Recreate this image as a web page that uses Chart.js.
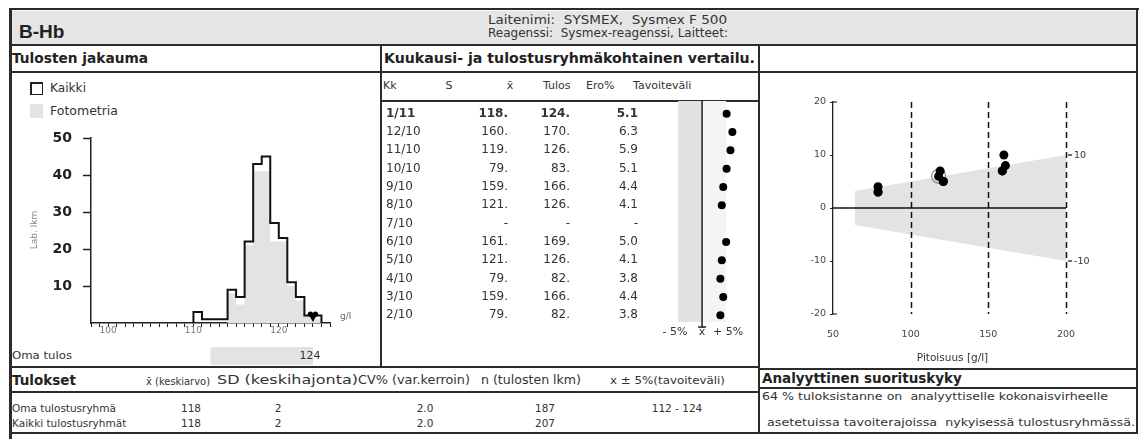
<!DOCTYPE html>
<html>
<head>
<meta charset="utf-8">
<script src="https://cdn.jsdelivr.net/npm/chart.js@4.4.1/dist/chart.umd.min.js"></script>
<style>
  html, body { margin: 0; padding: 0; background: #fff; }
  body { width: 1142px; height: 439px; position: relative; overflow: hidden;
         font-family: "DejaVu Sans", sans-serif; color: #333; }
  .ln { position: absolute; background: #2b2b2b; }
  .tx { position: absolute; white-space: pre; line-height: 1.2; }
  canvas { position: absolute; }
</style>
</head>
<body>
<div id="frame"></div>
<canvas id="hist" width="368" height="295" style="left:12px;top:72px;width:368px;height:295px"></canvas>
<canvas id="monthly" width="377" height="267" style="left:382px;top:100px;width:377px;height:267px"></canvas>
<canvas id="diff" width="375" height="296" style="left:762px;top:72px;width:375px;height:296px"></canvas>

<script>
// ---- Result distribution (g/l), one-unit bins ----
const binEdges   = [110, 111, 112, 113, 114, 115, 116, 117, 118, 119, 120, 121, 122, 123, 124, 125];
const countAll   = [3, 1, 1, 1, 9, 7, 22, 43, 45, 27, 23, 11, 7, 2, 2];
const countPhoto = [0, 0, 0, 0, 8, 5, 21, 41, 41, 22, 22, 10, 6, 2, 1];
const histTicks  = [98, 99, 100, 101, 102, 103, 104, 105, 106, 107, 108, 109, 110, 111, 112,
                    113, 114, 115, 116, 117, 118, 119, 120, 121, 122, 123, 124, 125, 126];
const ownResult  = 124;
const targetLow  = 112;
const targetHigh = 124;

// ---- Monthly comparison ----
const months       = ['1/11', '12/10', '11/10', '10/10', '9/10', '8/10', '7/10', '6/10', '5/10', '4/10', '3/10', '2/10'];
const monthMeans   = [118, 160, 119, 79, 159, 121, null, 161, 121, 79, 159, 79];
const monthResults = [124, 170, 126, 83, 166, 126, null, 169, 126, 82, 166, 82];
const monthDiffPct = [5.1, 6.3, 5.9, 5.1, 4.4, 4.1, null, 5.0, 4.1, 3.8, 4.4, 3.8];

// ---- Allowed deviation band (g/l) over concentration ----
const bandConc  = [64, 200];
const bandUpper = [3.2, 10];
const bandLower = [-3.2, -10];

// ---- Summary table ----
const summaryGroups = ['Oma tulostusryhmä', 'Kaikki tulostusryhmät'];
const summaryMean   = ['118', '118'];
const summarySD     = ['2', '2'];
const summaryCV     = ['2.0', '2.0'];
const summaryN      = ['187', '207'];
const summaryRange  = ['112 - 124', ''];

const FONT = '"DejaVu Sans", sans-serif';
const frame = document.getElementById('frame');
const measureCtx = document.createElement('canvas').getContext('2d');

function box(x, y, w, h, color) {
  const d = document.createElement('div');
  d.className = 'ln';
  d.style.cssText = `left:${x}px;top:${y}px;width:${w}px;height:${h}px;` + (color ? `background:${color};` : '');
  frame.appendChild(d);
}
// text placed by left/centre/right x and vertical centre; optional w stretches it to a given width
function text(x, yc, str, o = {}) {
  const d = document.createElement('div');
  d.className = 'tx';
  d.textContent = str;
  const size = o.size || 11;
  const weight = o.weight || 'normal';
  const family = o.family || FONT;
  const shift = o.align === 'center' ? '-50%' : (o.align === 'right' ? '-100%' : '0');
  let k = 1;
  if (o.w) {
    measureCtx.font = `${weight} ${size}px ${family}`;
    k = o.w / measureCtx.measureText(str).width;
  }
  d.style.cssText = `left:${x}px;top:${yc}px;font-size:${size}px;font-weight:${weight};` +
    `color:${o.color || '#333'};font-family:${family};transform-origin:0 50%;` +
    `transform:translate(${shift},-50%) scaleX(${k});`;
  frame.appendChild(d);
}

// header band and frame rules
box(12, 11, 1125, 34, '#e5e5e5');
box(9, 8, 1130, 2);          // top
box(9, 8, 3, 431);           // left
box(1136, 8, 1.5, 426);      // right
box(9, 44, 1129, 1.5);
box(9, 71, 1129, 1.5);
box(380, 44, 1.5, 323);
box(758, 44, 1.5, 390);
box(380, 100, 379, 1.5);
box(9, 366, 750, 1.5);
box(758, 368, 380, 1.5);
box(9, 391, 750, 1.5);
box(758, 387, 380, 1.5);
box(9, 432, 1129, 1.5);

// header texts
text(19, 32, 'B-Hb', { size: 19, weight: 'bold', color: '#222', family: '"Liberation Sans", sans-serif' });
text(488, 20, 'Laitenimi:  SYSMEX,  Sysmex F 500', { size: 12, w: 239 });
text(488, 33, 'Reagenssi:  Sysmex-reagenssi, Laitteet:', { size: 12, w: 240 });
text(12, 58, 'Tulosten jakauma', { size: 13.5, weight: 'bold', color: '#222', w: 136 });
text(384, 58, 'Kuukausi- ja tulostusryhmäkohtainen vertailu.', { size: 13.5, weight: 'bold', color: '#222', w: 371 });

// histogram legend
box(30, 82, 13, 13, '#222');
box(31.5, 83.5, 10, 10, '#fff');
text(50, 89, 'Kaikki', { size: 11.5, w: 36 });
box(30, 104, 13, 14, '#e3e3e3');
text(50, 112, 'Fotometria', { size: 11.5, w: 68 });
text(12, 356, 'Oma tulos', { size: 11, w: 60 });

// monthly table header
text(383, 86, 'Kk', { size: 11 });
text(449, 86, 'S', { size: 11, align: 'center' });
text(510, 86, 'x̄', { size: 11, align: 'center' });
text(543, 86, 'Tulos', { size: 11 });
text(586, 86, 'Ero%', { size: 11 });
text(633, 86, 'Tavoiteväli', { size: 11 });

// summary table
text(12, 380, 'Tulokset', { size: 13.5, weight: 'bold', color: '#222' });
text(146, 381, 'x̄ (keskiarvo)', { size: 10.5, w: 64 });
text(217, 381, 'SD (keskihajonta)', { size: 11.5, w: 141 });
text(358, 381, 'CV% (var.kerroin)', { size: 11.5, w: 112 });
text(481, 381, 'n (tulosten lkm)', { size: 11.5, w: 100 });
text(610, 381, 'x ± 5%(tavoiteväli)', { size: 11, w: 115 });
const rowY = [408, 423];
summaryGroups.forEach((g, i) => {
  text(12, rowY[i], g, { size: 10.5 });
  text(191, rowY[i], summaryMean[i], { size: 10.5, align: 'center' });
  text(278, rowY[i], summarySD[i], { size: 10.5, align: 'center' });
  text(425, rowY[i], summaryCV[i], { size: 10.5, align: 'center' });
  text(545, rowY[i], summaryN[i], { size: 10.5, align: 'center' });
  text(677, rowY[i], summaryRange[i], { size: 10.5, align: 'center' });
});

// performance box
text(762, 378, 'Analyyttinen suorituskyky', { size: 13.5, weight: 'bold', color: '#222' });
text(762, 397, '64 % tuloksistanne on  analyyttiselle kokonaisvirheelle', { size: 11, w: 346 });
text(767, 423, 'asetetuissa tavoiterajoissa  nykyisessä tulostusryhmässä.', { size: 11, w: 368 });

// ---------- Histogram ----------
function stepOutline(counts) {
  const pts = [{ x: binEdges[0], y: 0 }];
  counts.forEach((c, i) => {
    pts.push({ x: binEdges[i], y: c });
    pts.push({ x: binEdges[i + 1], y: c });
  });
  pts.push({ x: binEdges[binEdges.length - 1], y: 0 });
  return pts;
}

const histDecor = {
  id: 'histDecor',
  afterDraw(chart) {
    const { ctx, scales: { x, y } } = chart;
    ctx.save();
    // own result marker on the axis
    const mx = x.getPixelForValue(ownResult), base = y.getPixelForValue(0);
    ctx.fillStyle = '#000';
    ctx.beginPath();
    ctx.moveTo(mx - 5, base - 10);
    ctx.lineTo(mx + 5, base - 10);
    ctx.lineTo(mx, base - 1);
    ctx.closePath();
    ctx.fill();
    ctx.beginPath();
    ctx.arc(mx - 2.5, base - 9, 2.6, 0, Math.PI * 2);
    ctx.arc(mx + 2.5, base - 9, 2.6, 0, Math.PI * 2);
    ctx.fill();
    // unit
    ctx.fillStyle = '#666';
    ctx.font = `9px ${FONT}`;
    ctx.textBaseline = 'middle';
    ctx.textAlign = 'left';
    ctx.fillText('g/l', x.right + 10, base - 6);
    // axis title
    ctx.save();
    ctx.translate(23, 158);
    ctx.rotate(-Math.PI / 2);
    ctx.textAlign = 'center';
    ctx.fillStyle = '#888';
    ctx.fillText('Lab. lkm', 0, 0);
    ctx.restore();
    // target interval strip with own result
    const x0 = x.getPixelForValue(targetLow), x1 = x.getPixelForValue(targetHigh);
    ctx.fillStyle = '#e3e3e3';
    ctx.fillRect(x0, 275, x1 - x0, 18);
    ctx.fillStyle = '#333';
    ctx.font = `11px ${FONT}`;
    ctx.textAlign = 'center';
    ctx.fillText(String(ownResult), mx - 3, 284);
    ctx.restore();
  }
};

new Chart(document.getElementById('hist'), {
  type: 'line',
  data: {
    datasets: [
      { data: stepOutline(countAll), borderWidth: 2, borderColor: '#111',
        fill: false, pointRadius: 0, tension: 0, order: 0 },
      { data: stepOutline(countPhoto), borderWidth: 0, borderColor: 'rgba(0,0,0,0)',
        backgroundColor: '#e3e3e3', fill: 'origin', pointRadius: 0, tension: 0, order: 1 }
    ]
  },
  options: {
    responsive: false, animation: false, devicePixelRatio: 1,
    layout: { padding: { left: 0, right: 50, top: 66, bottom: 24 } },
    plugins: { legend: { display: false }, tooltip: { enabled: false } },
    scales: {
      x: {
        type: 'linear', min: 98, max: 126,
        afterBuildTicks: s => { s.ticks = histTicks.map(v => ({ value: v })); },
        afterFit: s => { s.height = 20; },
        grid: { drawOnChartArea: false, drawTicks: true, tickLength: 4, tickColor: '#222', tickWidth: 1 },
        border: { display: true, color: '#222', width: 1.5 },
        ticks: { autoSkip: false, maxRotation: 0, padding: -2, color: '#777',
                 font: { size: 9, family: FONT },
                 callback: v => (v % 10 === 0 ? String(v) : '') }
      },
      y: {
        min: 0, max: 50,
        afterBuildTicks: s => { s.ticks = [10, 20, 30, 40, 50].map(v => ({ value: v })); },
        afterFit: s => { s.width = 79; },
        grid: { drawOnChartArea: false, tickLength: 8, tickColor: '#222', tickWidth: 1.5 },
        border: { display: true, color: '#222', width: 1.5 },
        ticks: { padding: 11, color: '#222', font: { size: 14, weight: 'bold', family: FONT } }
      }
    }
  },
  plugins: [histDecor]
});

// ---------- Monthly table with deviation dots ----------
const monthlyDecor = {
  id: 'monthlyDecor',
  beforeDatasetsDraw(chart) {
    const { ctx, chartArea: a, scales: { x } } = chart;
    const xl = x.getPixelForValue(-5), x0 = x.getPixelForValue(0), xr = x.getPixelForValue(5);
    ctx.save();
    ctx.fillStyle = '#e2e2e2';
    ctx.fillRect(xl, a.top - 3.5, x0 - xl, a.bottom - a.top + 1);
    ctx.fillStyle = '#f4f4f4';
    ctx.fillRect(x0, a.top - 3.5, xr - x0, a.bottom - a.top + 1);
    ctx.strokeStyle = '#222';
    ctx.lineWidth = 1.5;
    ctx.beginPath();
    ctx.moveTo(x0, a.top - 3.5);
    ctx.lineTo(x0, a.bottom + 2.5);
    ctx.moveTo(x0 - 4, a.bottom + 2.5);
    ctx.lineTo(x0 + 4, a.bottom + 2.5);
    ctx.stroke();
    ctx.fillStyle = '#333';
    ctx.font = `11px ${FONT}`;
    ctx.textBaseline = 'middle';
    ctx.textAlign = 'center';
    ctx.fillText('- 5%', xl - 3, a.bottom + 8);
    ctx.fillText('x̄', x0, a.bottom + 8);
    ctx.fillText('+ 5%', xr + 2, a.bottom + 8);
    ctx.restore();
  },
  afterDraw(chart) {
    const { ctx, scales: { y } } = chart;
    ctx.save();
    ctx.fillStyle = '#333';
    ctx.textBaseline = 'middle';
    months.forEach((m, i) => {
      const yy = y.getPixelForValue(i);
      ctx.font = `${i === 0 ? 'bold ' : ''}12px ${FONT}`;
      ctx.textAlign = 'left';
      ctx.fillText(m, 4, yy);
      ctx.textAlign = 'right';
      ctx.fillText(monthMeans[i] === null ? '-' : monthMeans[i] + '.', 126, yy);
      ctx.fillText(monthResults[i] === null ? '-' : monthResults[i] + '.', 188, yy);
      ctx.fillText(monthDiffPct[i] === null ? '-' : monthDiffPct[i].toFixed(1), 256, yy);
    });
    ctx.restore();
  }
};

new Chart(document.getElementById('monthly'), {
  type: 'scatter',
  data: {
    datasets: [{
      data: months.map((m, i) => (monthDiffPct[i] === null ? null : { x: monthDiffPct[i], y: m }))
                  .filter(p => p !== null),
      pointRadius: 4, backgroundColor: '#000', borderWidth: 0
    }]
  },
  options: {
    responsive: false, animation: false, devicePixelRatio: 1,
    layout: { padding: { left: 296, right: 1, top: 4.5, bottom: 42.5 } },
    plugins: { legend: { display: false }, tooltip: { enabled: false } },
    scales: {
      x: { type: 'linear', min: -5, max: 11, display: false },
      y: { type: 'category', labels: months, offset: true, display: false }
    }
  },
  plugins: [monthlyDecor]
});

// ---------- Deviation vs concentration ----------
const diffDecor = {
  id: 'diffDecor',
  // reference lines sit above the band but below the result markers
  beforeDatasetDraw(chart, args) {
    if (args.index !== 1) return;
    const { ctx, chartArea: a, scales: { x, y } } = chart;
    ctx.save();
    ctx.strokeStyle = '#111';
    ctx.lineWidth = 1.5;
    ctx.setLineDash([6, 4]);
    [100, 150, 200].forEach(v => {
      const px = Math.round(x.getPixelForValue(v)) + 0.5;
      ctx.beginPath();
      ctx.moveTo(px, a.top);
      ctx.lineTo(px, a.bottom);
      ctx.stroke();
    });
    ctx.setLineDash([]);
    const y0 = y.getPixelForValue(0);
    ctx.beginPath();
    ctx.moveTo(a.left, y0);
    ctx.lineTo(x.getPixelForValue(200), y0);
    ctx.stroke();
    ctx.restore();
  },
  afterDraw(chart) {
    const { ctx, chartArea: a, scales: { x, y } } = chart;
    ctx.save();
    ctx.strokeStyle = '#111';
    // end brackets of the y axis
    ctx.lineWidth = 1.2;
    ctx.beginPath();
    ctx.moveTo(a.left, a.top); ctx.lineTo(a.left + 4, a.top);
    ctx.moveTo(a.left, a.bottom); ctx.lineTo(a.left + 4, a.bottom);
    ctx.stroke();
    // right-hand ±10 marks
    const xr = x.getPixelForValue(200);
    ctx.fillStyle = '#333';
    ctx.font = `9.5px ${FONT}`;
    ctx.textBaseline = 'middle';
    ctx.textAlign = 'left';
    [10, -10].forEach(v => {
      const py = y.getPixelForValue(v);
      ctx.beginPath();
      ctx.moveTo(xr + 2, py); ctx.lineTo(xr + 6, py);
      ctx.stroke();
      ctx.fillText(String(v), xr + 8, py + 1);
    });
    // axis title
    ctx.textAlign = 'center';
    ctx.font = `10.5px ${FONT}`;
    ctx.fillText('Pitoisuus [g/l]', (a.left + a.right) / 2 + 3, 286);
    ctx.restore();
  }
};

const diffPoints = [];
monthMeans.forEach((m, i) => {
  if (m !== null) diffPoints.push({ x: m, y: monthResults[i] - m });
});

new Chart(document.getElementById('diff'), {
  type: 'scatter',
  data: {
    datasets: [
      { data: diffPoints, pointRadius: 4.5, backgroundColor: '#000', borderWidth: 0, order: 0 },
      { data: [{ x: monthMeans[0], y: monthResults[0] - monthMeans[0] }], order: 1,
        pointRadius: 7, backgroundColor: 'rgba(0,0,0,0)', borderColor: '#999', borderWidth: 1.5 },
      { type: 'line', data: bandConc.map((c, i) => ({ x: c, y: bandUpper[i] })), order: 5,
        showLine: true, borderWidth: 0, borderColor: 'rgba(0,0,0,0)', backgroundColor: '#e3e3e3',
        fill: '+1', pointRadius: 0 },
      { type: 'line', data: bandConc.map((c, i) => ({ x: c, y: bandLower[i] })), order: 6,
        showLine: true, borderWidth: 0, borderColor: 'rgba(0,0,0,0)', fill: false, pointRadius: 0 }
    ]
  },
  options: {
    responsive: false, animation: false, devicePixelRatio: 1,
    layout: { padding: { left: 0, right: 71, top: 30, bottom: 24 } },
    plugins: { legend: { display: false }, tooltip: { enabled: false } },
    scales: {
      x: {
        type: 'linear', min: 50, max: 200,
        afterBuildTicks: s => { s.ticks = [50, 100, 150, 200].map(v => ({ value: v })); },
        afterFit: s => { s.height = 30; },
        grid: { display: false, drawTicks: false },
        border: { display: false },
        ticks: { padding: 15, color: '#444', font: { size: 9.5, family: FONT } }
      },
      y: {
        type: 'linear', min: -20, max: 20,
        afterBuildTicks: s => { s.ticks = [-20, -10, 0, 10, 20].map(v => ({ value: v })); },
        afterFit: s => { s.width = 71; },
        grid: { drawOnChartArea: false, tickLength: 3, tickColor: '#222' },
        border: { display: true, color: '#222', width: 1.3 },
        ticks: { padding: 4, color: '#444', font: { size: 9.5, family: FONT } }
      }
    }
  },
  plugins: [diffDecor]
});
</script>
</body>
</html>
